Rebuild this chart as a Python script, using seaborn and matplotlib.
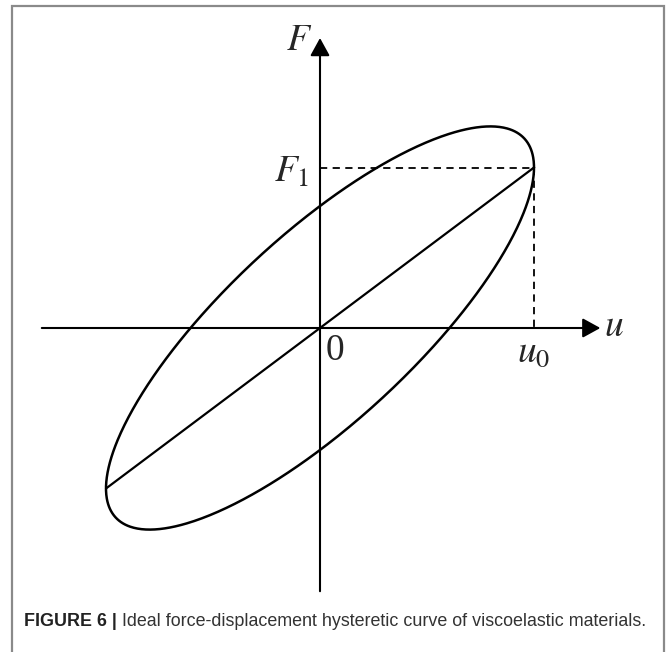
import numpy as np
import pandas as pd
import matplotlib
matplotlib.use("Agg")
import matplotlib.pyplot as plt
from matplotlib.patches import Rectangle
import seaborn as sns

# Hysteresis loop parameters (normalised units, displacement amplitude = 1)
u0 = 1.0          # displacement amplitude
F1 = 0.75         # force at maximum displacement (elastic part)
F0 = 0.57         # force at zero displacement (damping part)

# axis extents
u_axis = [-1.30, 1.31]
F_axis = [-1.23, 1.355]

# tick-like labels
label_F = r"$F$"
label_u = r"$u$"
label_F1 = r"$F_1$"
label_u0 = r"$u_0$"
label_zero = "0"
caption_bold = "FIGURE 6 |"
caption_text = " Ideal force-displacement hysteretic curve of viscoelastic materials."

sns.set_theme(style="white")
plt.rcParams["mathtext.fontset"] = "stix"
plt.rcParams["font.family"] = ["Liberation Sans", "DejaVu Sans"]

W, H, DPI = 672, 652, 100
fig = plt.figure(figsize=(W / DPI, H / DPI), dpi=DPI)
ax = fig.add_axes([0, 0, 1, 1])
ax.set_axis_off()

# pixel-consistent data limits: origin at (320, 328), 214 px per unit
scale = 214.0
ox, oy = 320.0, 328.0
ax.set_xlim(-ox / scale, (W - ox) / scale)
ax.set_ylim(-(H - oy) / scale, oy / scale)

# ellipse: u = u0 cos t, F = F1 cos t - F0 sin t
t = np.linspace(0, 2 * np.pi, 721)
loop = pd.DataFrame({"u": u0 * np.cos(t), "F": F1 * np.cos(t) - F0 * np.sin(t)})
sns.lineplot(data=loop, x="u", y="F", sort=False, estimator=None,
             color="black", linewidth=1.8, ax=ax)

# secant line through the loop
secant = pd.DataFrame({"u": [-u0, u0], "F": [-F1, F1]})
sns.lineplot(data=secant, x="u", y="F", sort=False, estimator=None,
             color="black", linewidth=1.6, ax=ax)

# dashed guides to F1 and u0
ax.plot([0, u0], [F1, F1], color="black", lw=1.3, ls=(0, (4, 3)))
ax.plot([u0, u0], [F1, 0], color="black", lw=1.3, ls=(0, (4, 3)))

# coordinate axes with arrows
arrow = dict(arrowstyle="-|>,head_length=0.4,head_width=0.22", mutation_scale=27,
             color="black", lw=1.5, shrinkA=0, shrinkB=0)
ax.annotate("", xy=(u_axis[1], 0), xytext=(u_axis[0], 0), arrowprops=arrow)
ax.annotate("", xy=(0, F_axis[1]), xytext=(0, F_axis[0]), arrowprops=arrow)

# labels
fs = 27
ax.text(u_axis[1] + 0.015, 0.01, label_u, fontsize=fs, ha="left", va="center")
ax.text(-0.035, F_axis[1] - 0.01, label_F, fontsize=fs, ha="right", va="center")
ax.text(-0.05, F1 - 0.02, label_F1, fontsize=fs, ha="right", va="center")
ax.text(u0, -0.11, label_u0, fontsize=fs, ha="center", va="center")
ax.text(0.07, -0.105, label_zero, fontsize=fs, ha="center", va="center",
        fontfamily="Liberation Serif")

# frame around the figure
fig.patches.append(Rectangle((12 / W, -0.02), (664 - 12) / W, 1 - 6 / H + 0.02,
                             transform=fig.transFigure, fill=False,
                             edgecolor="#8a8a8a", linewidth=1.6))

# caption
cy = 1 - 622 / H
cfs = 12.9
tb = fig.text(24 / W, cy, caption_bold, fontsize=cfs, fontweight="bold",
              color="#222222", ha="left", va="center")
fig.canvas.draw()
bb = tb.get_window_extent(renderer=fig.canvas.get_renderer())
fig.text(bb.x1 / W, cy, caption_text, fontsize=cfs, color="#333333",
         ha="left", va="center")

fig.savefig("out.png", dpi=DPI)
